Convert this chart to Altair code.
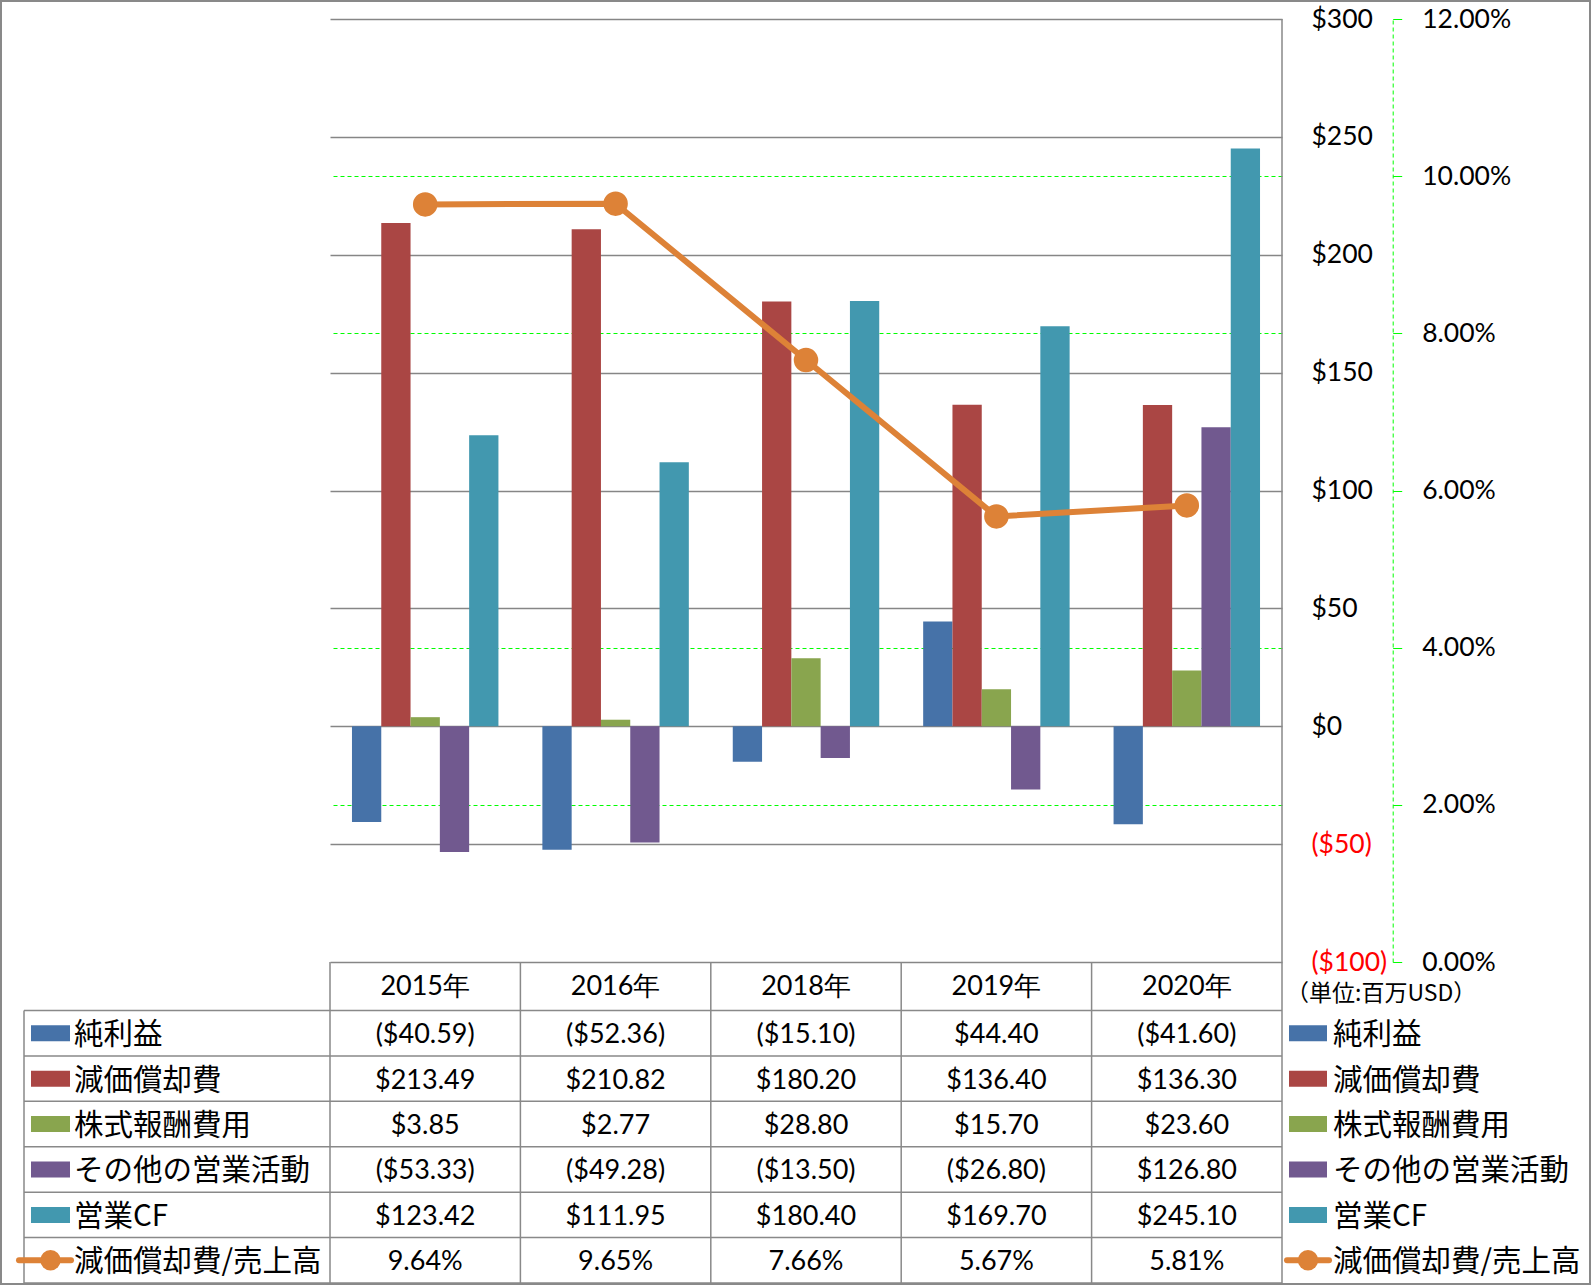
import altair as alt
import pandas as pd

# ---------------- data ----------------
years = ["2015年", "2016年", "2018年", "2019年", "2020年"]
series = ["純利益", "減価償却費", "株式報酬費用", "その他の営業活動", "営業CF"]
colors = ["#4672A8", "#AA4644", "#89A54E", "#71598F", "#4298AF"]
net_income = [-40.59, -52.36, -15.10, 44.40, -41.60]
depreciation = [213.49, 210.82, 180.20, 136.40, 136.30]
stock_comp = [3.85, 2.77, 28.80, 15.70, 23.60]
other_ops = [-53.33, -49.28, -13.50, -26.80, 126.80]
operating_cf = [123.42, 111.95, 180.40, 169.70, 245.10]
ratio_name = "減価償却費/売上高"
dep_ratio = [0.0964, 0.0965, 0.0766, 0.0567, 0.0581]
usd_ticks = [-100, -50, 0, 50, 100, 150, 200, 250, 300]
pct_ticks = [0, 0.02, 0.04, 0.06, 0.08, 0.10, 0.12]
unit_label = "（単位:百万USD）"

# ---------------- styling / layout ----------------
ORANGE = "#DD8237"
GRAY = "#898989"
GREEN = "#00FF00"
W, H = 952, 943
PAD = {"left": 330, "top": 19, "right": 310, "bottom": 324}
TABLE_TOP = 943
ROW_RANGE = [991.5, 1264]
JP = "Noto Sans CJK JP"
NUM = "Lato"
AXIS_FS = 26.5
CELL_FS = 27
JP_FS = 29.5

rows = series + [ratio_name]
values_by_series = [net_income, depreciation, stock_comp, other_ops, operating_cf]

bars_df = pd.DataFrame(
    [{"year": y, "series": s, "value": v}
     for s, vals in zip(series, values_by_series) for y, v in zip(years, vals)]
)
line_df = pd.DataFrame({"year": years, "ratio": dep_ratio})


def fmt_usd(v):
    return f"(${abs(v):.2f})" if v < 0 else f"${v:.2f}"


table_records = []
for s, vals in zip(series, values_by_series):
    for y, v in zip(years, vals):
        table_records.append({"year": y, "row": s, "text": fmt_usd(v)})
for y, r in zip(years, dep_ratio):
    table_records.append({"year": y, "row": ratio_name, "text": f"{r * 100:.2f}%"})
table_df = pd.DataFrame(table_records)
rows_df = pd.DataFrame({"row": rows})
series_df = pd.DataFrame({"row": series, "series": series})
ratio_row_df = pd.DataFrame({"row": [ratio_name]})
years_df = pd.DataFrame({"year": years})
one_df = pd.DataFrame({"k": [0]})

x_scale = alt.Scale(domain=years, paddingInner=0, paddingOuter=0)
X = lambda **kw: alt.X("year:N", sort=years, scale=x_scale, axis=None, **kw)
table_scale = alt.Scale(type="band", domain=rows, range=ROW_RANGE, paddingInner=0, paddingOuter=0)
YROW = lambda bp=0.5: alt.Y("row:N", sort=rows, scale=table_scale, axis=None, bandPosition=bp)

# ---------------- bars ----------------
bars = alt.Chart(bars_df).mark_bar().encode(
    x=X(),
    xOffset=alt.XOffset("series:N", sort=series,
                        scale=alt.Scale(domain=series, paddingInner=0, paddingOuter=0.75)),
    y=alt.Y("value:Q",
            scale=alt.Scale(domain=[-100, 300], nice=False, zero=False),
            axis=alt.Axis(orient="right", values=usd_ticks, domain=False, ticks=False,
                          grid=True, gridColor="#868686", gridWidth=1.5,
                          labelAlign="left", labelBaseline="middle", labelPadding=29,
                          labelFont=NUM, labelFontSize=AXIS_FS,
                          labelColor=alt.condition("datum.value < 0", alt.value("#FF0000"), alt.value("#000000")),
                          labelExpr="datum.value < 0 ? '($' + abs(datum.value) + ')' : '$' + datum.value",
                          title=None)),
    color=alt.Color("series:N", scale=alt.Scale(domain=series, range=colors), legend=None),
)

ratio_scale = alt.Scale(domain=[0, 0.12], nice=False, zero=False)
line = alt.Chart(line_df).mark_line(color=ORANGE, strokeWidth=6).encode(
    x=X(),
    y=alt.Y("ratio:Q", scale=ratio_scale,
            axis=alt.Axis(orient="right", offset=110.7, values=pct_ticks, format=".2%",
                          domainColor=GREEN, domainDash=[4, 3], domainWidth=1,
                          tickColor=GREEN, tickSize=9, tickWidth=1,
                          grid=True,
                          gridColor=alt.condition("datum.value == 0 || datum.value == 0.06 || datum.value == 0.12",
                                                  alt.value("transparent"), alt.value(GREEN)),
                          gridDash=[4, 3], gridWidth=1,
                          labelAlign="left", labelBaseline="middle", labelPadding=20,
                          labelFont=NUM, labelFontSize=AXIS_FS, labelColor="#000000",
                          title=None)),
)
points = alt.Chart(line_df).mark_circle(color=ORANGE, size=600, opacity=1).encode(
    x=X(),
    y=alt.Y("ratio:Q", scale=ratio_scale, axis=None),
)

# ---------------- table ----------------
h_lines = alt.Chart(rows_df).mark_rule(color=GRAY, strokeWidth=1.5).encode(
    x=alt.value(-306), x2=alt.value(W), y=YROW(0))
h_bottom = alt.Chart(ratio_row_df).mark_rule(color=GRAY, strokeWidth=1.5).encode(
    x=alt.value(-306), x2=alt.value(W), y=YROW(1))
v_lines = alt.Chart(years_df).mark_rule(color=GRAY, strokeWidth=1.5).encode(
    x=X(bandPosition=0), y=alt.value(TABLE_TOP), y2=alt.value(ROW_RANGE[1]))
v_right = alt.Chart(one_df).mark_rule(color=GRAY, strokeWidth=1.5).encode(
    x=alt.value(W), y=alt.value(0), y2=alt.value(ROW_RANGE[1]))
v_left = alt.Chart(one_df).mark_rule(color=GRAY, strokeWidth=1.5).encode(
    x=alt.value(-306), y=alt.value(ROW_RANGE[0]), y2=alt.value(ROW_RANGE[1]))

header = alt.Chart(years_df).mark_text(font=NUM, fontSize=CELL_FS, color="#000000", baseline="middle", dy=1).encode(
    x=X(), y=alt.value(967), text="year:N")
cells = alt.Chart(table_df).mark_text(font=NUM, fontSize=CELL_FS, color="#000000", baseline="middle", dy=2).encode(
    x=X(), y=YROW(), text="text:N")

labels_left = alt.Chart(rows_df).mark_text(font=JP, fontSize=JP_FS, color="#000000", align="left", baseline="middle", dy=2).encode(
    x=alt.value(-256), y=YROW(), text="row:N")
labels_right = alt.Chart(rows_df).mark_text(font=JP, fontSize=JP_FS, color="#000000", align="left", baseline="middle", dy=2).encode(
    x=alt.value(1003), y=YROW(), text="row:N")

sw_color = alt.Color("series:N", scale=alt.Scale(domain=series, range=colors), legend=None)
sw_left = alt.Chart(series_df).mark_rule(strokeWidth=16, strokeCap="butt").encode(
    x=alt.value(-299), x2=alt.value(-260), y=YROW(), color=sw_color)
sw_right = alt.Chart(series_df).mark_rule(strokeWidth=16, strokeCap="butt").encode(
    x=alt.value(959), x2=alt.value(997), y=YROW(), color=sw_color)

lg_line_left = alt.Chart(ratio_row_df).mark_rule(color=ORANGE, strokeWidth=6, strokeCap="round").encode(
    x=alt.value(-311), x2=alt.value(-259), y=YROW())
lg_dot_left = alt.Chart(ratio_row_df).mark_circle(color=ORANGE, size=415, opacity=1).encode(
    x=alt.value(-279.5), y=YROW())
lg_line_right = alt.Chart(ratio_row_df).mark_rule(color=ORANGE, strokeWidth=6, strokeCap="round").encode(
    x=alt.value(957), x2=alt.value(999), y=YROW())
lg_dot_right = alt.Chart(ratio_row_df).mark_circle(color=ORANGE, size=415, opacity=1).encode(
    x=alt.value(978), y=YROW())

unit = alt.Chart(one_df).mark_text(font=JP, fontSize=23, color="#000000", align="left", baseline="middle").encode(
    x=alt.value(956), y=alt.value(975), text=alt.value(unit_label))

frame = alt.Chart(one_df).mark_rect(fill="transparent", stroke=GRAY, strokeWidth=2).encode(
    x=alt.value(-329), x2=alt.value(1260), y=alt.value(-18), y2=alt.value(1265))

chart = alt.layer(
    bars, line, points,
    h_lines, h_bottom, v_lines, v_right, v_left,
    header, cells, labels_left, labels_right,
    sw_left, sw_right, lg_line_left, lg_line_right, lg_dot_left, lg_dot_right,
    unit, frame,
).resolve_scale(y="independent").properties(
    width=W, height=H,
    autosize=alt.AutoSizeParams(type="none"),
    padding=PAD,
    background="white",
).configure_view(stroke=None)

chart.save("out.html", embed_options={"renderer": "svg", "actions": False})
